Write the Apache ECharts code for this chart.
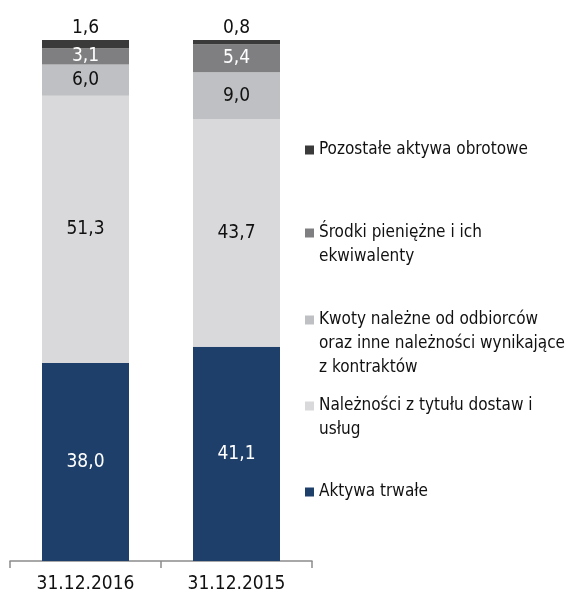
<!DOCTYPE html>
<html>
<head>
<meta charset="utf-8">
<script src="https://cdn.jsdelivr.net/npm/echarts@6/dist/echarts.min.js"></script>
<style>
html,body{margin:0;padding:0;background:#fff;}
#c{width:572px;height:599px;}
</style>
</head>
<body>
<div id="c"></div>
<script>
var categories = ['31.12.2016', '31.12.2015'];
var seriesNames = [
  'Aktywa trwałe',
  'Należności z tytułu dostaw i\nusług',
  'Kwoty należne od odbiorców\noraz inne należności wynikające\nz kontraktów',
  'Środki pieniężne i ich\nekwiwalenty',
  'Pozostałe aktywa obrotowe'
];
var aktywaTrwale = [38.0, 41.1];
var naleznosci = [51.3, 43.7];
var kwotyNalezne = [6.0, 9.0];
var srodkiPieniezne = [3.1, 5.4];
var pozostale = [1.6, 0.8];

var FONT = '"DejaVu Sans Condensed", "Liberation Sans Narrow", "Liberation Sans", Arial, sans-serif';
var colors = ['#1F3F6B', '#D9D9DB', '#BFC0C3', '#7F7F82', '#3A3A3A'];
var labelColors = ['#ffffff', '#111111', '#111111', '#ffffff', '#111111'];
var dataArr = [aktywaTrwale, naleznosci, kwotyNalezne, srodkiPieniezne, pozostale];

function fmt(p){ return p.value.toFixed(1).replace('.', ','); }

var series = dataArr.map(function(d, i){
  return {
    name: seriesNames[i],
    type: 'bar',
    stack: 'total',
    barWidth: 87,
    data: d,
    itemStyle: {color: colors[i]},
    label: {
      show: true,
      position: i === 4 ? 'top' : 'inside',
      distance: 2,
      color: labelColors[i],
      fontFamily: FONT,
      fontSize: 19,
      formatter: fmt
    }
  };
});

// legend: one component per item; blank lines above keep the icon on the first text line
var legendY = [492, 406, 320, 233, 150];
var lh = 24;
var legends = seriesNames.map(function(n, i){
  var lines = n.split('\n').length;
  var boxH = (2 * lines - 1) * lh;
  return {
    data: [n],
    orient: 'vertical',
    left: 305,
    top: legendY[i] - boxH / 2,
    padding: 0,
    itemWidth: 9,
    itemHeight: 9,
    itemGap: 6,
    icon: 'rect',
    selectedMode: false,
    formatter: function(name){
      var k = name.split('\n').length - 1;
      var pre = '';
      for (var j = 0; j < k; j++) pre += ' \n';
      return pre + name;
    },
    textStyle: {
      fontFamily: FONT,
      fontSize: 17,
      color: '#111',
      lineHeight: lh
    }
  };
});

var chart = echarts.init(document.getElementById('c'));
chart.setOption({
  animation: false,
  color: colors,
  legend: legends,
  grid: {left: 10, right: 260, top: 40, bottom: 38, containLabel: false},
  xAxis: {
    type: 'category',
    data: categories,
    axisLine: {lineStyle: {color: '#8C8C8C', width: 1.5}},
    axisTick: {show: true, length: 7, lineStyle: {color: '#8C8C8C', width: 1.5}},
    axisLabel: {color: '#111', fontFamily: FONT, fontSize: 19, margin: 14}
  },
  yAxis: {type: 'value', min: 0, max: 100, show: false, splitLine: {show: false}},
  series: series
});
</script>
</body>
</html>
